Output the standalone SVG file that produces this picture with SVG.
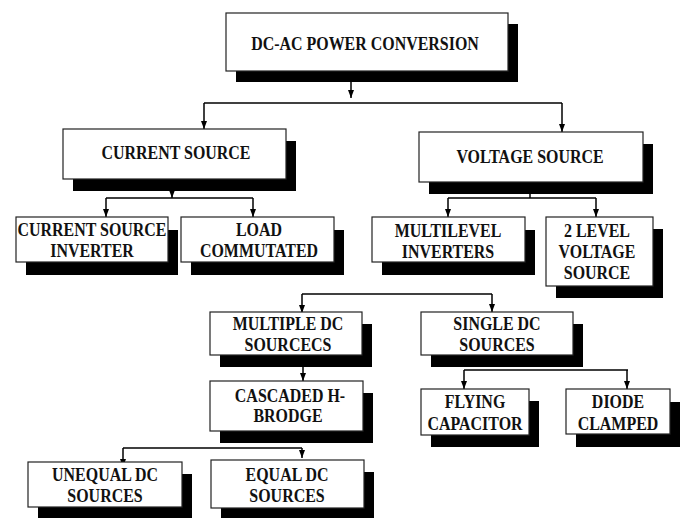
<svg xmlns="http://www.w3.org/2000/svg" width="683" height="518" viewBox="0 0 683 518">
<style>
.bx{fill:#fff;stroke:#222;stroke-width:1.2}
.sh{fill:#000}
.t{font-family:"Liberation Serif","Times New Roman",serif;font-weight:bold;font-size:19px;text-anchor:middle;fill:#111}
.c{fill:none;stroke:#000;stroke-width:1.5}
</style>
<defs>
<marker id="ah" markerUnits="userSpaceOnUse" markerWidth="8" markerHeight="6" refX="8" refY="3" orient="auto">
<path d="M0,0 L8,3 L0,6 z" fill="#000"/>
</marker>
</defs>
<rect width="683" height="518" fill="#fff"/>
<g id="connectors">
<path class="c" d="M351,82 V98" marker-end="url(#ah)"/>
<path class="c" d="M204,103 H562"/>
<path class="c" d="M204,103 V129" marker-end="url(#ah)"/>
<path class="c" d="M562,103 V132" marker-end="url(#ah)"/>
<path class="c" d="M172,191 V198" marker-end="url(#ah)"/>
<path class="c" d="M106,198 H253"/>
<path class="c" d="M106,198 V217" marker-end="url(#ah)"/>
<path class="c" d="M253,198 V217" marker-end="url(#ah)"/>
<path class="c" d="M530,194 V198"/>
<path class="c" d="M448,198 H596"/>
<path class="c" d="M448,198 V217" marker-end="url(#ah)"/>
<path class="c" d="M596,198 V217" marker-end="url(#ah)"/>
<path class="c" d="M302,294 H492"/>
<path class="c" d="M302,294 V313" marker-end="url(#ah)"/>
<path class="c" d="M492,294 V312" marker-end="url(#ah)"/>
<path class="c" d="M303,367 V381" marker-end="url(#ah)"/>
<path class="c" d="M464,370 H628"/>
<path class="c" d="M464,370 V389" marker-end="url(#ah)"/>
<path class="c" d="M627,370 V389" marker-end="url(#ah)"/>
<path class="c" d="M123,448 H302"/>
<path class="c" d="M123,448 V467" marker-end="url(#ah)"/>
<path class="c" d="M302,448 V458" marker-end="url(#ah)"/>
</g>
<g id="dcac">
<rect class="sh" x="236" y="24" width="282" height="58"/>
<rect class="bx" x="226" y="13" width="282" height="58"/>
<text class="t" transform="translate(365,50) scale(0.84,1)">DC-AC POWER CONVERSION</text>
</g>
<g id="current-source">
<rect class="sh" x="73" y="141" width="223" height="50"/>
<rect class="bx" x="63" y="129" width="223" height="50"/>
<text class="t" transform="translate(176,159) scale(0.84,1)">CURRENT SOURCE</text>
</g>
<g id="voltage-source">
<rect class="sh" x="429" y="144" width="224" height="50"/>
<rect class="bx" x="419" y="132" width="224" height="50"/>
<text class="t" transform="translate(530,163) scale(0.84,1)">VOLTAGE SOURCE</text>
</g>
<g id="csi">
<rect class="sh" x="26" y="230" width="152" height="45"/>
<rect class="bx" x="16" y="217" width="152" height="45"/>
<text class="t" transform="translate(92,236) scale(0.84,1)">CURRENT SOURCE</text>
<text class="t" transform="translate(92,257) scale(0.84,1)">INVERTER</text>
</g>
<g id="load-commutated">
<rect class="sh" x="191" y="230" width="153" height="45"/>
<rect class="bx" x="181" y="217" width="153" height="45"/>
<text class="t" transform="translate(259,236) scale(0.84,1)">LOAD</text>
<text class="t" transform="translate(259,257) scale(0.84,1)">COMMUTATED</text>
</g>
<g id="multilevel">
<rect class="sh" x="382" y="230" width="153" height="45"/>
<rect class="bx" x="372" y="217" width="153" height="45"/>
<text class="t" transform="translate(448,237) scale(0.84,1)">MULTILEVEL</text>
<text class="t" transform="translate(448,258) scale(0.84,1)">INVERTERS</text>
</g>
<g id="two-level">
<rect class="sh" x="556" y="229" width="107" height="69"/>
<rect class="bx" x="546" y="217" width="107" height="69"/>
<text class="t" transform="translate(597,237) scale(0.84,1)">2 LEVEL</text>
<text class="t" transform="translate(597,258) scale(0.84,1)">VOLTAGE</text>
<text class="t" transform="translate(597,279) scale(0.84,1)">SOURCE</text>
</g>
<g id="multiple-dc">
<rect class="sh" x="220" y="324" width="152" height="43"/>
<rect class="bx" x="210" y="312" width="152" height="43"/>
<text class="t" transform="translate(288,330) scale(0.84,1)">MULTIPLE DC</text>
<text class="t" transform="translate(288,351) scale(0.84,1)">SOURCECS</text>
</g>
<g id="single-dc">
<rect class="sh" x="431" y="324" width="152" height="43"/>
<rect class="bx" x="421" y="312" width="152" height="43"/>
<text class="t" transform="translate(497,330) scale(0.84,1)">SINGLE DC</text>
<text class="t" transform="translate(497,351) scale(0.84,1)">SOURCES</text>
</g>
<g id="cascaded">
<rect class="sh" x="220" y="393" width="153" height="50"/>
<rect class="bx" x="210" y="381" width="153" height="50"/>
<text class="t" transform="translate(290,402) scale(0.84,1)">CASCADED H-</text>
<text class="t" transform="translate(288,422) scale(0.84,1)">BRODGE</text>
</g>
<g id="flying">
<rect class="sh" x="431" y="401" width="108" height="46"/>
<rect class="bx" x="421" y="389" width="108" height="46"/>
<text class="t" transform="translate(475,408) scale(0.84,1)">FLYING</text>
<text class="t" transform="translate(475,430) scale(0.84,1)">CAPACITOR</text>
</g>
<g id="diode">
<rect class="sh" x="576" y="402" width="104" height="45"/>
<rect class="bx" x="566" y="389" width="104" height="45"/>
<text class="t" transform="translate(618,408) scale(0.84,1)">DIODE</text>
<text class="t" transform="translate(618,430) scale(0.84,1)">CLAMPED</text>
</g>
<g id="unequal">
<rect class="sh" x="38" y="474" width="154" height="45"/>
<rect class="bx" x="28" y="462" width="154" height="45"/>
<text class="t" transform="translate(105,481) scale(0.84,1)">UNEQUAL DC</text>
<text class="t" transform="translate(105,502) scale(0.84,1)">SOURCES</text>
</g>
<g id="equal">
<rect class="sh" x="221" y="472" width="153" height="48"/>
<rect class="bx" x="211" y="460" width="153" height="48"/>
<text class="t" transform="translate(287,481) scale(0.84,1)">EQUAL DC</text>
<text class="t" transform="translate(287,502) scale(0.84,1)">SOURCES</text>
</g>
</svg>
